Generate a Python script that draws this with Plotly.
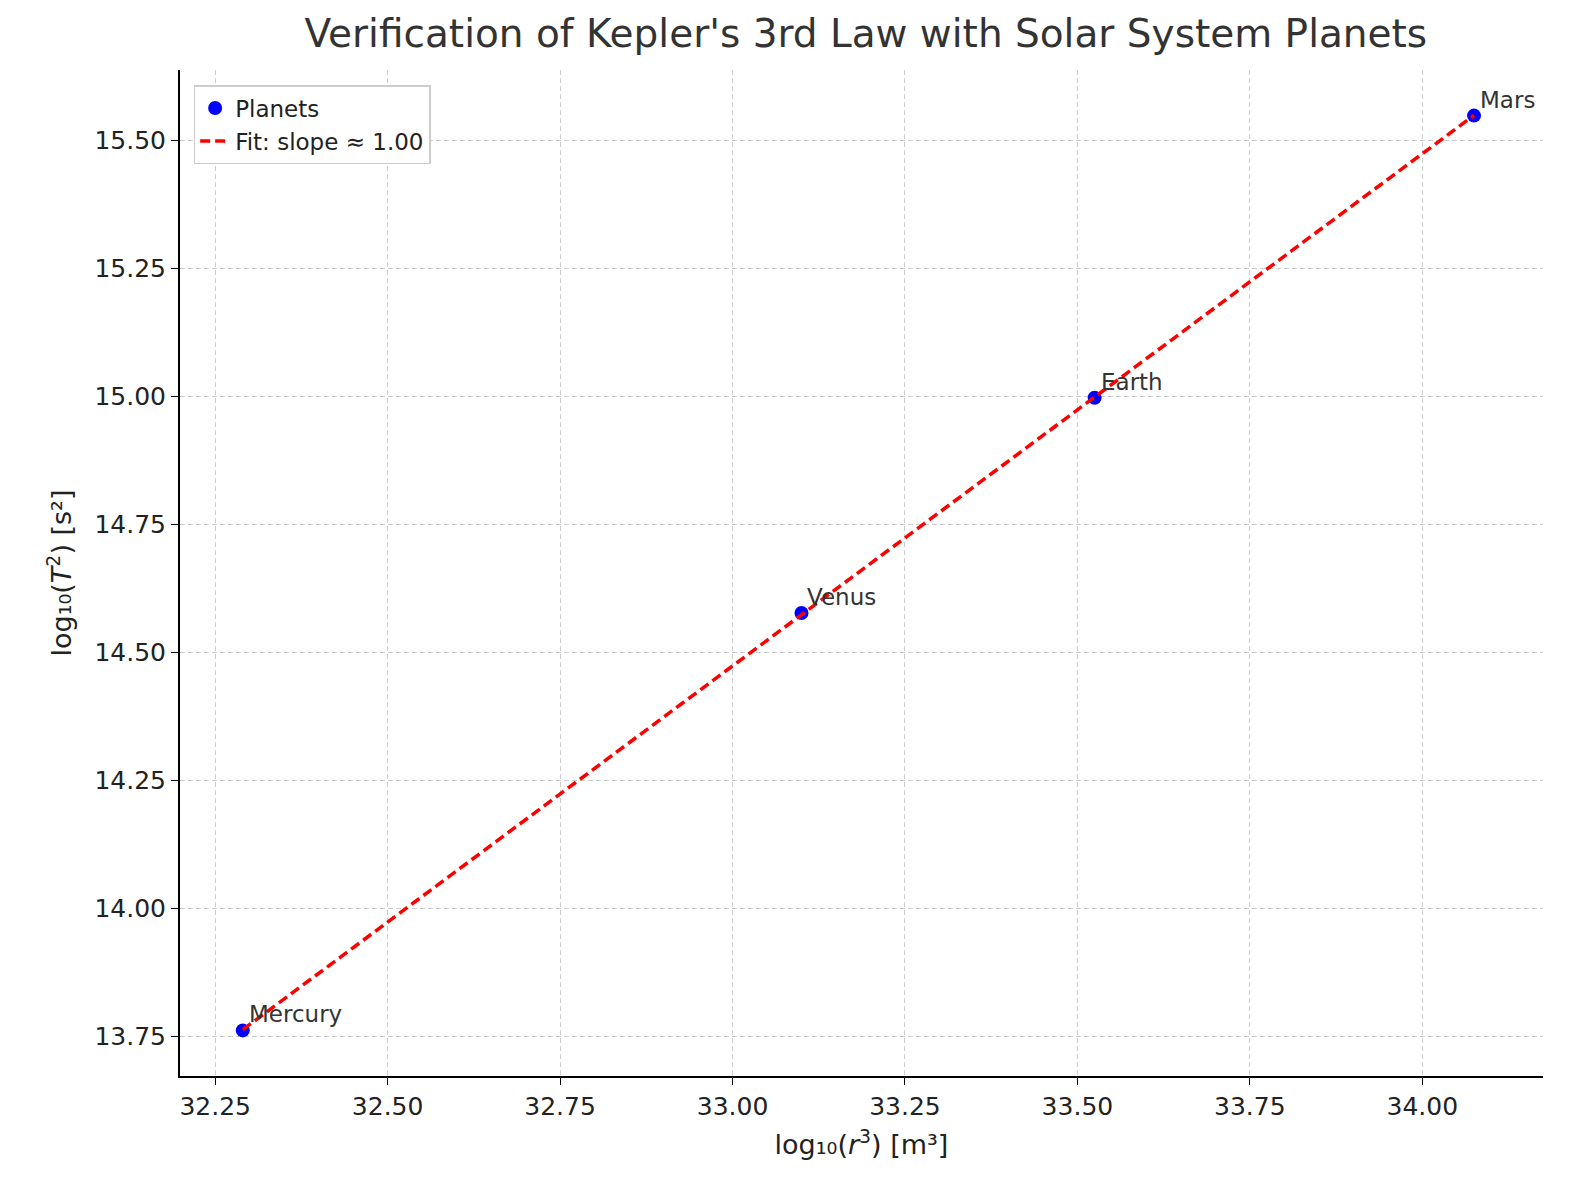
import numpy as np
import plotly.graph_objects as go

planets = ["Mercury", "Venus", "Earth", "Mars"]
log_r3 = [32.29, 33.10, 33.525, 34.075]
log_T2 = [13.762, 14.577, 14.997, 15.548]

slope, intercept = np.polyfit(log_r3, log_T2, 1)
fit_x = np.array(log_r3)
fit_y = slope * fit_x + intercept

fig = go.Figure()
fig.add_trace(go.Scatter(x=log_r3, y=log_T2, mode="markers", name="Planets",
                         marker=dict(color="blue", size=14)))
fig.add_trace(go.Scatter(x=fit_x, y=fit_y, mode="lines",
                         name="Fit: slope \u2248 %.2f" % slope,
                         line=dict(color="red", width=3.5, dash="10px,5px")))

for name, x, y in zip(planets, log_r3, log_T2):
    fig.add_annotation(x=x, y=y, text=name, showarrow=False, xanchor="left",
                       yanchor="bottom", xshift=4, yshift=1,
                       font=dict(size=23, color="#333"))

axis = dict(showgrid=True, gridcolor="#cccccc", griddash="5px,3px", gridwidth=1,
            showline=True, linecolor="black", linewidth=2, ticks="outside",
            ticklen=7, tickcolor="black", zeroline=False,
            tickfont=dict(size=25, color="#222"))

fig.update_layout(
    width=1574, height=1180,
    paper_bgcolor="white", plot_bgcolor="white",
    font=dict(family="DejaVu Sans", color="#222"),
    title=dict(text="Verification of Kepler's 3rd Law with Solar System Planets",
               x=0.545, xanchor="center", y=0.99, yanchor="top",
               font=dict(size=39, color="#333")),
    margin=dict(l=172, r=39, t=62, b=112),
    xaxis=dict(axis, range=[32.199, 34.175], tickvals=[32.25, 32.5, 32.75, 33.0, 33.25, 33.5, 33.75, 34.0],
               tickformat=".2f",
               title=dict(text="log\u2081\u2080(<i>r</i><sup>3</sup>) [m\u00b3]", font=dict(size=27))),
    yaxis=dict(axis, range=[13.673, 15.637], tickvals=[13.75, 14.0, 14.25, 14.5, 14.75, 15.0, 15.25, 15.5],
               tickformat=".2f",
               title=dict(text="log\u2081\u2080(<i>T</i><sup>2</sup>) [s\u00b2]", font=dict(size=27))),
    legend=dict(x=0.01, y=0.985, xanchor="left", yanchor="top", bgcolor="white",
                bordercolor="#cccccc", borderwidth=1.5, font=dict(size=23)),
)

fig.write_html("out.html")
